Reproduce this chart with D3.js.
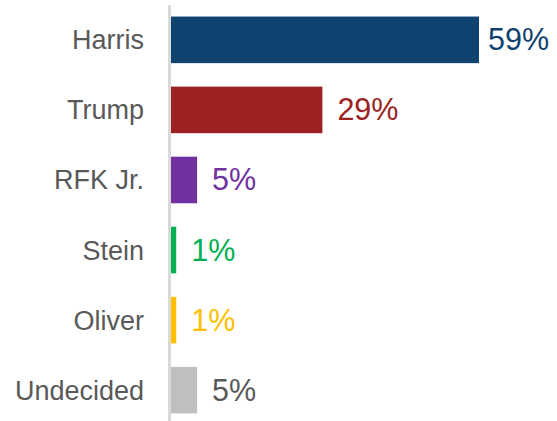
<!DOCTYPE html>
<html>
<head>
<meta charset="utf-8">
<script src="https://cdn.jsdelivr.net/npm/d3@7"></script>
<style>
  html, body { margin: 0; padding: 0; background: #fff; }
  svg { display: block; }
</style>
</head>
<body>
<svg id="chart" width="557" height="421"></svg>
<script>
// Candidate support (%)
const candidates = ["Harris", "Trump", "RFK Jr.", "Stein", "Oliver", "Undecided"];
const support = [59, 29, 5, 1, 1, 5];
const barColors = ["#10426F", "#9C2121", "#7030A0", "#00B050", "#FFC000", "#BFBFBF"];
const valueColors = ["#10426F", "#9C2121", "#7030A0", "#00B050", "#FFC000", "#595959"];

const W = 557, H = 421;
const svg = d3.select("#chart");

const x0 = 171;
const x = d3.scaleLinear().domain([0, 59]).range([x0, 479]);
const y = d3.scaleBand().domain(candidates).range([5, 425]).paddingInner(0.335).paddingOuter(0.165);

const font = "'Liberation Sans', Arial, sans-serif";

// Bars
svg.selectAll("rect.bar")
  .data(candidates)
  .join("rect")
  .attr("class", "bar")
  .attr("x", x0)
  .attr("y", d => y(d))
  .attr("width", (d, i) => x(support[i]) - x0)
  .attr("height", y.bandwidth())
  .attr("fill", (d, i) => barColors[i]);

// Category axis line
svg.append("line")
  .attr("x1", 169.5).attr("x2", 169.5)
  .attr("y1", 5).attr("y2", H)
  .attr("stroke", "#d9d9d9").attr("stroke-width", 3);

// Category labels
svg.selectAll("text.cat")
  .data(candidates)
  .join("text")
  .attr("class", "cat")
  .attr("x", 144)
  .attr("y", d => y(d) + y.bandwidth() / 2 + 9.5)
  .attr("text-anchor", "end")
  .attr("font-family", font)
  .attr("font-size", 27)
  .attr("fill", "#595959")
  .text(d => d);

// Value labels, kept inside the right edge
const vals = svg.selectAll("text.val")
  .data(candidates)
  .join("text")
  .attr("class", "val")
  .attr("y", d => y(d) + y.bandwidth() / 2 + 10.5)
  .attr("font-family", font)
  .attr("font-size", 30.5)
  .attr("fill", (d, i) => valueColors[i])
  .text((d, i) => support[i] + "%");

vals.each(function(d, i) {
  const w = this.getComputedTextLength();
  const px = Math.min(x(support[i]) + 15, W - 8 - w);
  d3.select(this).attr("x", px);
});
</script>
</body>
</html>
